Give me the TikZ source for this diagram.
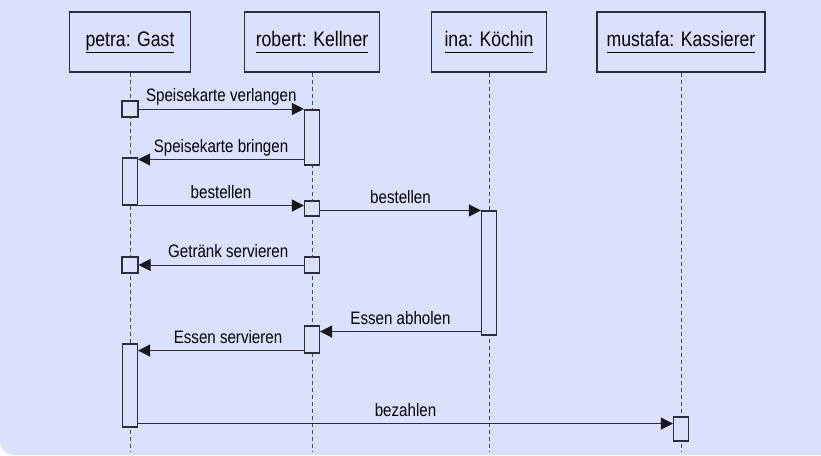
\documentclass[tikz,border=0pt]{standalone}
\usepackage{fontspec}
\setmainfont{Liberation Sans}[FakeStretch=0.84]
\usetikzlibrary{arrows.meta}
\definecolor{bgblue}{RGB}{217,225,252}
\definecolor{linegray}{RGB}{45,45,55}
\tikzstyle{head} = [rectangle, draw=linegray, line width=1.2pt, fill=bgblue, minimum height=60pt, font=\fontsize{21}{24}\selectfont]
\tikzstyle{act} = [rectangle, draw=linegray, line width=1.1pt, fill=bgblue, minimum width=15pt, inner sep=0pt]
\tikzstyle{lifeline} = [draw=linegray!85, line width=1pt, dash pattern=on 4pt off 3pt]
\tikzstyle{msg} = [draw=linegray, line width=0.9pt, -{Triangle[length=12pt,width=12pt,fill=black!90,color=black!90]}]
\tikzstyle{msglabel} = [font=\fontsize{18}{21}\selectfont, above=2pt, inner sep=1pt, text depth=4pt]
\newcommand{\objname}[1]{\underline{#1\vphantom{p}}}

\begin{document}
\begin{tikzpicture}[x=1pt, y=-1pt]

  % Background (rounded lower left corner only)
  \useasboundingbox (0,0) rectangle (821,455);
  \fill[bgblue, rounded corners=14pt] (0,-40) rectangle (861,455);

  % Objects
  \node (petra) [head, minimum width=121pt] at (130,42) {\objname{petra: Gast}};
  \node (robert) [head, minimum width=135pt] at (312,42) {\objname{robert: Kellner}};
  \node (ina) [head, minimum width=115pt] at (489,42) {\objname{ina: Köchin}};
  \node (mustafa) [head, minimum width=168pt] at (681,42) {\objname{mustafa: Kassierer}};

  % Lifelines
  \coordinate (bottom) at (0,451);
  \draw[lifeline] (petra.south) -- (petra.south |- bottom);
  \draw[lifeline] (robert.south) -- (robert.south |- bottom);
  \draw[lifeline] (ina.south) -- (ina.south |- bottom);
  \draw[lifeline] (mustafa.south) -- (mustafa.south |- bottom);

  % Activations
  \node (p1) [act, minimum width=16pt, minimum height=16pt] at (130,109) {};
  \node (r1) [act, minimum height=55pt] at (312,137.5) {};
  \node (p2) [act, minimum height=47pt] at (130,181.5) {};
  \node (r2) [act, minimum height=15pt] at (312,208.5) {};
  \node (i1) [act, minimum height=124pt] at (489,273) {};
  \node (r3) [act, minimum height=16pt] at (312,265) {};
  \node (p3) [act, minimum width=16pt, minimum height=16pt] at (130,265) {};
  \node (r4) [act, minimum height=27pt] at (312,339.5) {};
  \node (p4) [act, minimum height=83pt] at (130,385.5) {};
  \node (m1) [act, minimum height=24pt] at (681,429) {};

  % Messages
  \draw[msg] (p1.east) -- (p1.east -| r1.west) node[msglabel, midway] {Speisekarte verlangen};
  \draw[msg] ([yshift=-2pt]r1.west |- p2.north) -- ([yshift=-2pt]p2.north east) node[msglabel, midway] {Speisekarte bringen};
  \draw[msg] (p2.south east) -- (p2.south east -| r2.west) node[msglabel, midway] {bestellen};
  \draw[msg] (r2.east |- i1.north) -- (i1.north west) node[msglabel, midway] {bestellen};
  \draw[msg] (r3.west) -- (p3.east) node[msglabel, midway, xshift=7pt] {Getränk servieren};
  \draw[msg] ([yshift=4pt]i1.south west) -- ([yshift=4pt]r4.east |- i1.south) node[msglabel, midway] {Essen abholen};
  \draw[msg] ([yshift=3pt]r4.south west) -- ([yshift=3pt]r4.south west -| p4.east) node[msglabel, midway, xshift=7pt] {Essen servieren};
  \draw[msg] ([yshift=4pt]p4.south east) -- ([yshift=4pt]p4.south east -| m1.west) node[msglabel, midway] {bezahlen};

\end{tikzpicture}
\end{document}
